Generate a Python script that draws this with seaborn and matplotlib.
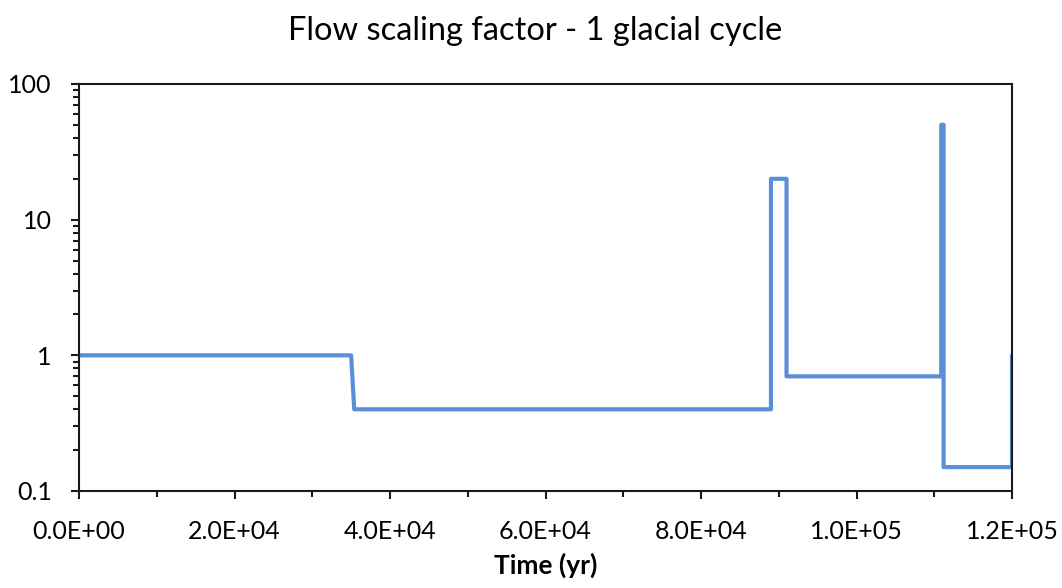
import matplotlib
matplotlib.use("Agg")
import matplotlib.pyplot as plt
import matplotlib.ticker as mticker
import seaborn as sns
import pandas as pd

# Data (step series)
time_yr = [0, 35000, 35400, 89000, 89000, 91000, 91000, 110900, 110900, 111200, 111200, 120000, 120000]
flow_factor = [1, 1, 0.4, 0.4, 20, 20, 0.7, 0.7, 50, 50, 0.15, 0.15, 1]

x_ticks = [0, 20000, 40000, 60000, 80000, 100000, 120000]
y_ticks = [0.1, 1, 10, 100]

sns.set_theme(style="white")
plt.rcParams['font.family'] = ['Lato', 'DejaVu Sans']

df = pd.DataFrame({"Time (yr)": time_yr, "factor": flow_factor})

fig = plt.figure(figsize=(10.62, 5.88), dpi=100)
ax = fig.add_axes([79/1062, 1-491/588, (1012-79)/1062, (491-84)/588])

sns.lineplot(data=df, x="Time (yr)", y="factor", ax=ax, sort=False, estimator=None,
             color="#5A8FD8", linewidth=3.0)
for ln in ax.get_lines():
    ln.set_solid_joinstyle('round')
    ln.set_solid_capstyle('round')

ax.set_yscale('log')
ax.set_xlim(0, 120000)
ax.set_ylim(0.1, 100)

ax.xaxis.set_major_locator(mticker.FixedLocator(x_ticks))
ax.xaxis.set_minor_locator(mticker.MultipleLocator(10000))
ax.xaxis.set_major_formatter(mticker.FuncFormatter(lambda v, p: f"{v:.1E}"))
ax.yaxis.set_major_locator(mticker.FixedLocator(y_ticks))
ax.yaxis.set_minor_locator(mticker.LogLocator(base=10, subs=range(2, 10)))
ax.yaxis.set_major_formatter(mticker.FuncFormatter(lambda v, p: f"{v:g}"))
ax.yaxis.set_minor_formatter(mticker.NullFormatter())

for s in ax.spines.values():
    s.set_color("#1a1a1a")
    s.set_linewidth(1.5)
    s.set_visible(True)

ax.tick_params(axis='x', which='major', direction='out', length=6, width=1.5,
               color="#1a1a1a", labelsize=18, pad=15, bottom=True, labelcolor="black")
ax.tick_params(axis='x', which='minor', direction='out', length=4.3, width=1.5,
               color="#1a1a1a", bottom=True)
ax.tick_params(axis='y', which='major', direction='out', length=6, width=1.5,
               color="#1a1a1a", labelsize=18, pad=13.5, left=True, labelcolor="black")
ax.tick_params(axis='y', which='minor', direction='out', length=4, width=1.5,
               color="#1a1a1a", left=True)

ax.set_xlabel("Time (yr)", fontsize=19, fontweight='bold', color="black")
ax.xaxis.set_label_coords(0.5, -0.183)
ax.xaxis.label.set_va('center')
ax.set_ylabel("")

fig.text(0.504, 1-30.5/588, "Flow scaling factor - 1 glacial cycle",
         ha='center', va='center', fontsize=23.5, color="black")

fig.savefig("out.png", dpi=100, facecolor="white")
